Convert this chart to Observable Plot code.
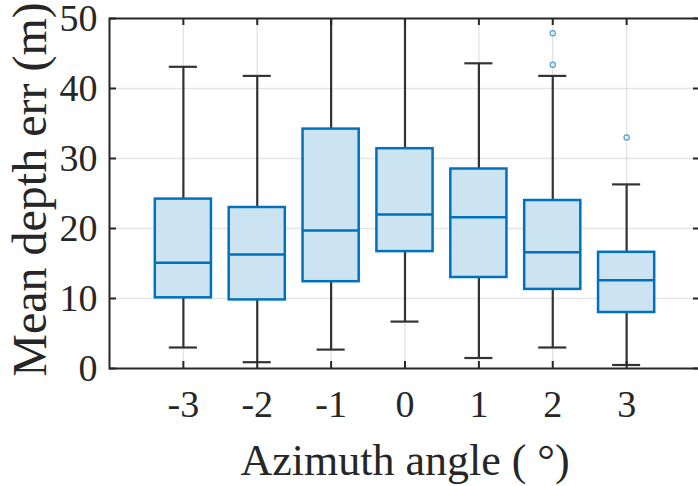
<!DOCTYPE html>
<html>
<head>
<meta charset="utf-8">
<script src="https://cdn.jsdelivr.net/npm/d3@7"></script>
<script src="https://cdn.jsdelivr.net/npm/@observablehq/plot@0.6"></script>
<style>
  html, body { margin: 0; padding: 0; background: #fff; overflow: hidden; }
  svg { font-family: "Liberation Serif", "Times New Roman", serif; }
</style>
</head>
<body>
<div id="chart"></div>
<script>
// Azimuth angle categories (degrees)
const angles = [-3, -2, -1, 0, 1, 2, 3];
// Box statistics of the mean depth error (m) per angle
const lowerWhisker = [3.0, 0.9, 2.7, 6.7, 1.5, 3.0, 0.5];
const q1 = [10.1, 9.8, 12.4, 16.7, 13.0, 11.3, 8.0];
const median = [15.1, 16.3, 19.7, 22.0, 21.6, 16.6, 12.6];
const q3 = [24.2, 23.0, 34.2, 31.4, 28.5, 24.0, 16.6];
const upperWhisker = [43.1, 41.8, 60, 60, 43.6, 41.8, 26.3];
// Outliers beyond the whiskers
const outlierAngle = [2, 2, 3];
const outlierErr = [47.9, 43.4, 33.0];
// Axis ticks
const yTicks = [0, 10, 20, 30, 40, 50];
const yGrid = [10, 20, 30, 40];

const boxes = angles.map((a, i) => ({
  angle: a, lo: lowerWhisker[i], q1: q1[i], med: median[i], q3: q3[i], hi: upperWhisker[i]
}));
const outliers = outlierAngle.map((a, i) => ({angle: a, err: outlierErr[i]}));

const W = 698, H = 486;
const mL = 109, mR = -2, mT = 18, mB = 118;
const plotW = W - mL - mR, plotH = H - mT - mB;
const boxHalf = 0.38, capHalf = 0.19, tickLen = 7;
const blue = "#0072BD", dark = "#262626", whisk = "#333333";

const chart = Plot.plot({
  width: W,
  height: H,
  marginLeft: mL,
  marginRight: mR,
  marginTop: mT,
  marginBottom: mB,
  x: {type: "linear", domain: [-4, 4], axis: null},
  y: {domain: [0, 50], axis: null},
  marks: [
    // grid
    Plot.ruleY(yGrid, {stroke: "#000", strokeOpacity: 0.1, strokeWidth: 1.5}),
    Plot.ruleX(angles, {stroke: "#000", strokeOpacity: 0.1, strokeWidth: 1.5}),
    // whiskers
    Plot.ruleX(boxes, {x: "angle", y1: "q3", y2: "hi", stroke: whisk, strokeWidth: 2.2, clip: true}),
    Plot.ruleX(boxes, {x: "angle", y1: "lo", y2: "q1", stroke: whisk, strokeWidth: 2.2}),
    Plot.ruleY(boxes.filter(d => d.hi <= 50), {y: "hi", x1: d => d.angle - capHalf, x2: d => d.angle + capHalf, stroke: whisk, strokeWidth: 2.2}),
    Plot.ruleY(boxes, {y: "lo", x1: d => d.angle - capHalf, x2: d => d.angle + capHalf, stroke: whisk, strokeWidth: 2.2}),
    // boxes
    Plot.rect(boxes, {x1: d => d.angle - boxHalf, x2: d => d.angle + boxHalf, y1: "q1", y2: "q3", fill: "#cce3f2", stroke: blue, strokeWidth: 2.5}),
    Plot.ruleY(boxes, {y: "med", x1: d => d.angle - boxHalf, x2: d => d.angle + boxHalf, stroke: blue, strokeWidth: 2.5}),
    // outliers
    Plot.dot(outliers, {x: "angle", y: "err", r: 2.6, stroke: blue, strokeOpacity: 0.65, strokeWidth: 1.3, fill: "none"}),
    // frame and inward ticks
    Plot.frame({stroke: dark, strokeWidth: 2}),
    Plot.ruleY(yTicks, {stroke: dark, strokeWidth: 2, insetRight: plotW - tickLen}),
    Plot.ruleY(yTicks, {stroke: dark, strokeWidth: 2, insetLeft: plotW - tickLen}),
    Plot.ruleX(angles, {stroke: dark, strokeWidth: 2, insetTop: plotH - tickLen}),
    Plot.ruleX(angles, {stroke: dark, strokeWidth: 2, insetBottom: plotH - tickLen}),
    // tick labels
    Plot.axisY(yTicks, {tickSize: 0, tickPadding: 12, fontSize: 38, color: dark, label: null}),
    Plot.axisX(angles, {tickSize: 0, tickPadding: 22, fontSize: 38, color: dark, label: null, tickFormat: d => String(d).replace("−", "-")}),
    // axis titles
    Plot.text(["Azimuth angle ( °)"], {frameAnchor: "bottom", lineAnchor: "middle", dy: 92, fontSize: 44, fill: dark}),
    Plot.text(["Mean depth err (m)"], {frameAnchor: "left", textAnchor: "middle", lineAnchor: "middle", rotate: -90, dx: -79, dy: -4, fontSize: 48, fill: dark})
  ]
});
document.getElementById("chart").appendChild(chart);
</script>
</body>
</html>
